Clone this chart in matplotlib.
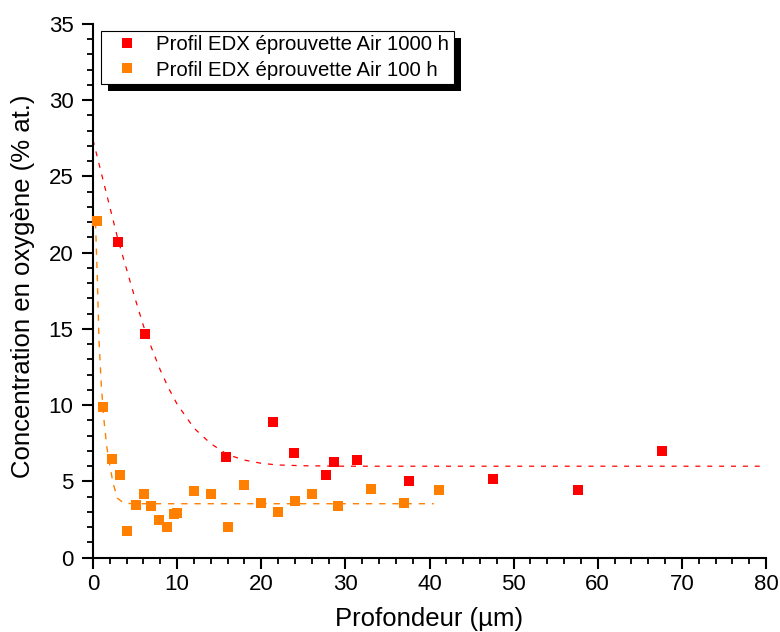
import matplotlib
matplotlib.use("Agg")
import matplotlib.pyplot as plt
from matplotlib.ticker import MultipleLocator
from matplotlib.patches import Rectangle

plt.rcParams['font.family'] = ['Liberation Sans', 'DejaVu Sans']

# Data
red_x = [2.95, 6.2, 15.8, 21.4, 23.9, 27.7, 28.7, 31.4, 37.6, 47.6, 57.7, 67.6]
red_y = [20.7, 14.7, 6.6, 8.9, 6.85, 5.42, 6.26, 6.39, 5.0, 5.16, 4.42, 7.0]

orange_x = [0.44, 1.23, 2.22, 3.25, 4.08, 5.1, 6.06, 6.9, 7.8, 8.8, 9.6, 10.0,
            12.0, 14.0, 16.0, 18.0, 20.0, 22.0, 24.0, 26.0, 29.1, 33.0, 37.0, 41.1]
orange_y = [22.06, 9.9, 6.49, 5.42, 1.77, 3.48, 4.2, 3.39, 2.47, 1.99, 2.85, 2.9,
            4.35, 4.2, 2.01, 4.75, 3.62, 3.0, 3.74, 4.16, 3.37, 4.48, 3.57, 4.42]

# Dashed fit curves
red_fit_x = [0, 1, 2, 3, 4, 5, 6, 7, 8, 9, 10, 12, 14, 16, 18, 20, 22, 25, 30, 80]
red_fit_y = [27.4, 25.2, 23.0, 20.8, 18.9, 17.0, 15.2, 13.7, 12.3, 11.1, 10.07,
             8.5, 7.48, 6.76, 6.4, 6.19, 6.08, 6.03, 6.0, 6.0]

orange_fit_x = [0.3, 0.52, 0.71, 1.0, 1.31, 1.63, 2.02, 2.38, 2.9, 3.7, 5.0, 40.5]
orange_fit_y = [22.0, 18.2, 14.3, 11.2, 9.0, 7.3, 6.0, 4.9, 3.9, 3.57, 3.54, 3.54]

labels = ["Profil EDX éprouvette Air 1000 h", "Profil EDX éprouvette Air 100 h"]
red = "#FF0000"
orange = "#FF8000"

fig = plt.figure(figsize=(7.8, 6.32), dpi=100)
ax = fig.add_axes([93/780, 1-557.7/632, (766-93)/780, (557.7-24)/632])

ax.plot(red_fit_x, red_fit_y, color=red, lw=0.9, dashes=(4, 5.5), zorder=2)
ax.plot(orange_fit_x, orange_fit_y, color=orange, lw=1.0, dashes=(4.5, 5), zorder=2)

ax.plot(red_x, red_y, 's', color=red, ms=7.8, mew=0, label=labels[0], zorder=3, clip_on=False)
ax.plot(orange_x, orange_y, 's', color=orange, ms=7.8, mew=0, label=labels[1], zorder=3, clip_on=False)

ax.set_xlim(0, 80)
ax.set_ylim(0, 35)
ax.xaxis.set_major_locator(MultipleLocator(10))
ax.xaxis.set_minor_locator(MultipleLocator(2))
ax.yaxis.set_major_locator(MultipleLocator(5))
ax.yaxis.set_minor_locator(MultipleLocator(1))

for s in ['top', 'right']:
    ax.spines[s].set_visible(False)
for s in ['left', 'bottom']:
    ax.spines[s].set_linewidth(1.5)

ax.tick_params(which='major', direction='out', length=8, width=1.5, labelsize=16)
ax.tick_params(which='minor', direction='out', length=4, width=1.3)
ax.tick_params(axis='x', which='major', pad=4)
ax.tick_params(axis='y', which='major', pad=6)

ax.set_xlabel("Profondeur (µm)", fontsize=18.5)
ax.set_ylabel("Concentration en oxygène (% at.)", fontsize=18.5)
ax.xaxis.set_label_coords(0.5, -0.092)
ax.yaxis.set_label_coords(-0.086, 0.509)

leg = ax.legend(loc='upper left', bbox_to_anchor=(0.0114, 0.987), borderaxespad=0,
                fontsize=14.7, numpoints=1, fancybox=False, framealpha=1,
                edgecolor='black', borderpad=0.22, labelspacing=0.3,
                handlelength=2.1, handletextpad=0.4)
leg.get_frame().set_linewidth(0.8)
leg.set_zorder(6)

fig.canvas.draw()
bb = leg.get_frame().get_window_extent()
shadow = Rectangle((bb.x0 + 7, bb.y0 - 7), bb.width, bb.height, transform=None,
                   facecolor='black', edgecolor='none', zorder=5.5, clip_on=False)
ax.add_artist(shadow)

fig.savefig("out.png", dpi=100)
